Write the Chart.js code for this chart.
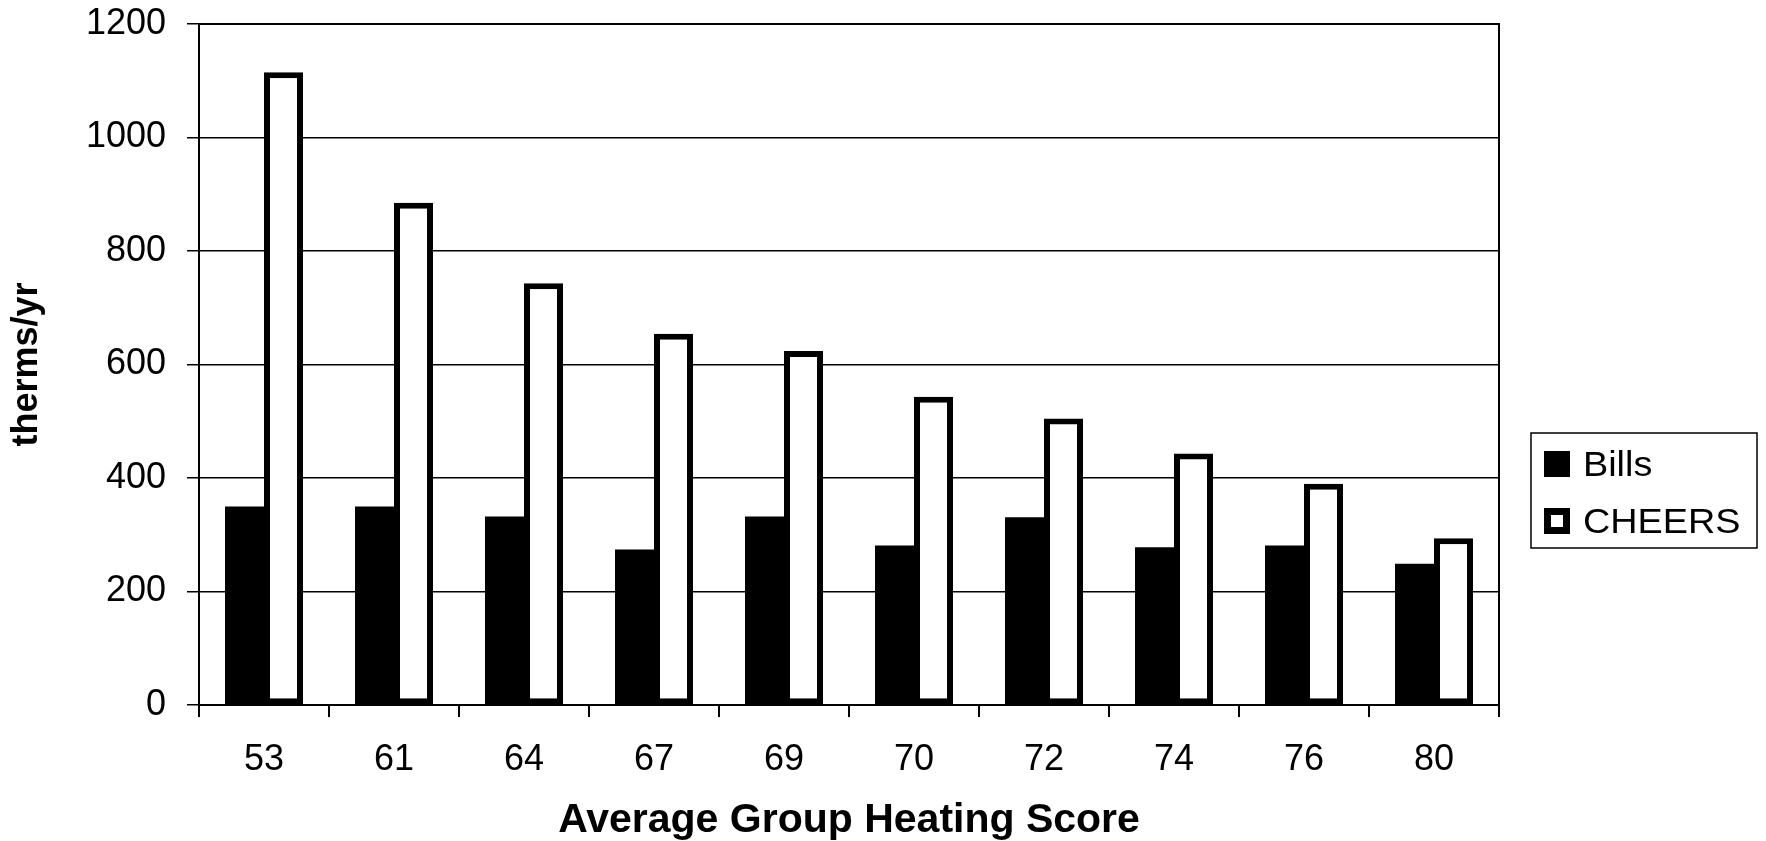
<!DOCTYPE html>
<html>
<head>
<meta charset="utf-8">
<script src="https://cdn.jsdelivr.net/npm/chart.js@4/dist/chart.umd.min.js"></script>
<style>
  html, body { margin: 0; padding: 0; background: #fff; }
  canvas { display: block; }
</style>
</head>
<body>
<canvas id="chart" width="1766" height="841"></canvas>
<script>
/* ── data ── */
const categories = ['53', '61', '64', '67', '69', '70', '72', '74', '76', '80'];
const billsValues = [350, 350, 332, 274, 332, 281, 331, 278, 281, 249];
const cheersValues = [1115, 885, 743, 654, 624, 543, 505, 443, 390, 294];
const yTicks = [0, 200, 400, 600, 800, 1000, 1200];

const FONT = '"Liberation Sans", Arial, sans-serif';

/* ── plot frame (right + top border) ── */
const frame = {
  id: 'frame',
  afterDatasetsDraw(chart) {
    const { ctx, chartArea: a } = chart;
    ctx.save();
    ctx.strokeStyle = '#000';
    ctx.lineWidth = 2;
    ctx.beginPath();
    ctx.moveTo(a.left, a.top);
    ctx.lineTo(a.right, a.top);
    ctx.lineTo(a.right, a.bottom);
    ctx.stroke();
    ctx.restore();
  }
};

/* ── boxed legend on the right ── */
const boxLegend = {
  id: 'boxLegend',
  afterDraw(chart) {
    const { ctx } = chart;
    const box = { x: 1531, y: 433, w: 226, h: 115 };
    const rowH = 57;
    const firstY = 464;
    ctx.save();
    ctx.strokeStyle = '#000';
    ctx.lineWidth = 1.5;
    ctx.strokeRect(box.x, box.y, box.w, box.h);
    ctx.font = '35px ' + FONT;
    ctx.textBaseline = 'alphabetic';
    chart.data.datasets.forEach((ds, i) => {
      const cy = firstY + rowH * i;
      const mx = 1544, ms = 26;
      ctx.fillStyle = ds.borderWidth ? ds.borderColor : ds.backgroundColor;
      ctx.fillRect(mx, cy - ms / 2, ms, ms);
      if (ds.borderWidth) {
        ctx.fillStyle = ds.backgroundColor;
        ctx.fillRect(mx + 7, cy - ms / 2 + 7, ms - 14, ms - 14);
      }
      ctx.save();
      ctx.translate(1583, cy + 12);
      ctx.scale(1.08, 1);
      ctx.fillStyle = '#000';
      ctx.fillText(ds.label, 0, 0);
      ctx.restore();
    });
    ctx.restore();
  }
};

new Chart(document.getElementById('chart'), {
  type: 'bar',
  data: {
    labels: categories,
    datasets: [
      {
        label: 'Bills',
        data: billsValues,
        backgroundColor: '#000',
        borderColor: '#000',
        borderWidth: 0,
        categoryPercentage: 0.6,
        barPercentage: 1
      },
      {
        label: 'CHEERS',
        data: cheersValues,
        backgroundColor: '#fff',
        borderColor: '#000',
        borderWidth: 6,
        borderSkipped: false,
        categoryPercentage: 0.6,
        barPercentage: 1
      }
    ]
  },
  options: {
    responsive: false,
    animation: false,
    layout: { padding: { top: 24, right: 267, left: 0, bottom: 0 } },
    plugins: {
      legend: { display: false },
      tooltip: { enabled: false }
    },
    scales: {
      x: {
        grid: { display: true, drawOnChartArea: false, drawTicks: true, tickLength: 12, color: '#000', lineWidth: 2, offset: true },
        border: { display: true, color: '#000', width: 2 },
        ticks: { color: '#000', font: { family: FONT, size: 36 }, padding: 21, maxRotation: 0 },
        title: {
          display: true,
          text: 'Average Group Heating Score',
          color: '#000',
          font: { family: FONT, size: 41, weight: 'bold', lineHeight: 1 },
          padding: { top: 0, bottom: 0 }
        },
        afterFit: s => { s.height = 136; }
      },
      y: {
        min: yTicks[0],
        max: yTicks[yTicks.length - 1],
        afterBuildTicks: s => { s.ticks = yTicks.map(v => ({ value: v })); },
        grid: { color: '#000', lineWidth: 1.5, tickLength: 12 },
        border: { display: true, color: '#000', width: 2 },
        ticks: { color: '#000', font: { family: FONT, size: 36 }, padding: 21, callback: v => String(v) },
        title: {
          display: true,
          text: 'therms/yr',
          color: '#000',
          font: { family: FONT, size: 36, weight: 'bold' },
          padding: { top: 5, bottom: 0 }
        },
        afterFit: s => {
          s.width = 199;
          s.paddingTop = 0;
          s.paddingBottom = 0;
        }
      }
    }
  },
  plugins: [frame, boxLegend]
});
</script>
</body>
</html>
